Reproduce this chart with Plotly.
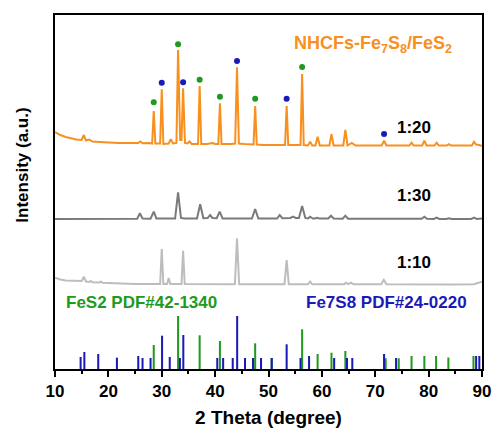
import plotly.graph_objects as go

# ---------------- data (2θ in degrees, intensity in a.u.) ----------------
s20_x = [10, 11, 12, 13, 14, 15.0, 15.4, 15.8, 16.4, 17, 18, 20, 22, 24, 25.6, 26.0, 26.4, 27.5,
         28.2, 28.5, 28.8, 29.7, 30.0, 30.3, 31.3, 31.7, 32.1, 32.75, 33.06, 33.45, 33.7, 34.0, 34.35,
         34.8, 35.2, 35.6, 36.8, 37.1, 37.4, 38.5, 39.5, 40.0, 40.6, 40.9, 41.2, 43.0, 43.75, 44.1,
         44.45, 45.5, 47.2, 47.5, 47.8, 49, 51, 53.1, 53.4, 53.7, 55, 56.0, 56.3, 56.6, 57.4, 57.8,
         58.2, 58.8, 59.2, 59.6, 61.4, 61.8, 62.2, 64.0, 64.4, 64.8, 65.6, 66.3, 70, 71.2, 71.65, 72.1,
         74, 76.4, 76.8, 77.2, 78.8, 79.2, 79.6, 81.1, 81.5, 81.9, 83.4, 83.8, 84.2, 86, 88.1, 88.5,
         88.9, 89.5, 90]
s20_y = [237, 234, 232, 230.5, 229.5, 229, 234, 228.5, 229.5, 227.5, 227, 226.5, 226, 226, 226, 227.5,
         225.8, 226, 225.5, 258, 225.5, 225.5, 279.7, 225, 225.5, 229.7, 225.5, 226, 319, 229, 229,
         280.7, 226, 225.5, 227.5, 225, 225, 283, 225, 225, 226, 225, 225, 265.7, 225, 225, 225.5,
         301.7, 225.5, 225, 224.5, 263, 224.5, 224, 224, 224, 263, 224, 224, 224, 295, 224, 223.5,
         227.3, 223.5, 223.5, 232.3, 223.5, 223.5, 234.7, 223.5, 223.5, 239, 223.5, 226, 223.5, 223.5,
         223.5, 228.3, 223.5, 223.5, 223.5, 226.3, 223.5, 223.5, 228.3, 223.5, 223.5, 226.3, 223.5,
         223.5, 224.8, 223.5, 223.5, 223.5, 227.3, 224.5, 224, 223]

s30_x = [10, 20, 24, 25.4, 25.9, 26.4, 27.9, 28.5, 29.0, 32.5, 33.06, 33.6, 34.2, 36.6, 37.2, 37.8,
         38.6, 39.05, 39.5, 40.3, 40.85, 41.4, 46.9, 47.5, 48.1, 51.6, 52.1, 52.6, 54.1, 54.6, 55.1,
         55.7, 56.3, 56.9, 57.4, 57.8, 58.3, 58.7, 59.1, 59.5, 61.2, 61.7, 62.2, 63.9, 64.4, 64.9,
         78.7, 79.2, 79.7, 81.0, 81.5, 82.0, 83.3, 83.8, 84.3, 88.0, 88.5, 89.0, 90]
s30_y = [150, 150, 150, 150.3, 155.7, 150.5, 150.3, 157.3, 150.5, 150.5, 176.7, 151, 150.5, 150.5,
         164.7, 150.8, 151, 154, 151, 150.8, 157.3, 150.5, 150.5, 160, 150.5, 150.5, 154, 150.8, 151,
         152.3, 151, 151, 163, 151, 150.5, 152.3, 150.5, 150.5, 151.3, 150.5, 150.5, 153.3, 150.5,
         150.3, 153.3, 150.3, 150.2, 152.3, 150.2, 150, 151.3, 150, 150, 150.7, 150, 150, 151.3, 150,
         150.5]

s10_x = [10, 11, 12, 14, 15.0, 15.4, 15.8, 16.4, 16.7, 17.0, 18.3, 18.6, 18.9, 20, 22, 25, 29.7,
         30.0, 30.3, 31.0, 31.3, 31.6, 33.7, 34.0, 34.3, 38, 43.7, 44.1, 44.5, 50, 53.0, 53.4, 53.8,
         57.4, 57.8, 58.2, 62, 64.2, 64.5, 64.9, 65.5, 65.9, 71.1, 71.6, 72.1, 76, 80, 85, 88.5, 89.3, 90]
s10_y = [91.3, 89.5, 88.5, 88, 88, 92.3, 87.5, 87, 88, 86.7, 86.5, 87.3, 86.3, 86, 85.5, 85, 85, 120,
         85, 85, 91, 85, 85, 118.3, 85, 84.7, 84.7, 130.7, 84.7, 84.7, 84.7, 109, 84.7, 84.7, 87.3,
         84.7, 84.7, 84.7, 86.3, 84.9, 86.3, 84.7, 84.7, 89, 84.7, 84.5, 84.5, 84.5, 84.7, 86, 87.3]

# phase markers on the 1:20 pattern
fes2_mark_x = [28.5, 33.06, 37.1, 40.9, 47.5, 56.3]
fes2_mark_y = [266.7, 324.7, 289.3, 272.3, 270.3, 302]
fe7s8_mark_x = [30.0, 34.0, 44.1, 53.4, 71.65]
fe7s8_mark_y = [286.3, 286.7, 308, 270.3, 235]

# reference patterns
fes2_pos = [28.5, 33.06, 37.1, 40.9, 47.5, 50.6, 56.3, 59.2, 61.8, 64.4, 71.95, 74.4, 76.8, 79.2,
            81.4, 83.7, 88.4]
fes2_h = [24, 53, 33.7, 28, 25.7, 11, 39.7, 15, 16.3, 18, 10.7, 10.7, 13, 13, 13, 11.5, 13]
fe7s8_pos = [14.8, 15.5, 18.1, 21.6, 25.6, 26.4, 27.9, 30.06, 31.5, 33.4, 34.04, 40.4, 41.5, 43.3,
             44.13, 45.6, 47.1, 48.6, 50.6, 53.4, 56.0, 57.6, 62.3, 64.7, 65.7, 71.65, 73.9, 88.9, 89.5]
fe7s8_h = [12, 17, 15, 11.3, 13, 11, 11, 33.3, 12, 11, 34, 11, 11, 11, 53, 11, 11, 11, 11, 24.7, 11,
           13, 11, 11, 11, 15, 11, 13, 13]

x_ticks = [10, 20, 30, 40, 50, 60, 70, 80, 90]

ORANGE = "#f7901e"
DGRAY = "#7a7a7a"
LGRAY = "#bdbdbd"
GREEN = "#1f9a1f"
BLUE = "#1a1ab8"
FONT = "Arial, Liberation Sans, sans-serif"

fig = go.Figure()
fig.add_trace(go.Bar(x=fes2_pos, y=fes2_h, width=0.38, marker=dict(color=GREEN, line_width=0)))
fig.add_trace(go.Bar(x=fe7s8_pos, y=fe7s8_h, width=0.38, marker=dict(color=BLUE, line_width=0)))
fig.add_trace(go.Scatter(x=s10_x, y=s10_y, mode="lines", line=dict(color=LGRAY, width=2)))
fig.add_trace(go.Scatter(x=s30_x, y=s30_y, mode="lines", line=dict(color=DGRAY, width=2)))
fig.add_trace(go.Scatter(x=s20_x, y=s20_y, mode="lines", line=dict(color=ORANGE, width=2)))
fig.add_trace(go.Scatter(x=fes2_mark_x, y=fes2_mark_y, mode="markers",
                         marker=dict(color=GREEN, size=6)))
fig.add_trace(go.Scatter(x=fe7s8_mark_x, y=fe7s8_mark_y, mode="markers",
                         marker=dict(color=BLUE, size=6)))

def label(x, y, text, color, size=16):
    fig.add_annotation(x=x, y=y, text=text, showarrow=False, xref="x", yref="y",
                       font=dict(family=FONT, size=size, color=color, weight="bold"))

label(69.6, 325, "NHCFs-Fe<sub>7</sub>S<sub>8</sub>/FeS<sub>2</sub>", ORANGE, 18)
label(77.2, 242, "1:20", "black", 17)
label(77.2, 174, "1:30", "black", 17)
label(77.2, 107, "1:10", "black", 17)
label(26.2, 67, "FeS2 PDF#42-1340", GREEN, 17)
label(72.1, 67, "Fe7S8 PDF#24-0220", BLUE, 17)

fig.add_annotation(x=-0.076, y=0.576, xref="paper", yref="paper", text="Intensity (a.u.)",
                   textangle=-90, showarrow=False, xanchor="center", yanchor="middle",
                   font=dict(family=FONT, size=17, color="black", weight="bold"))

fig.update_layout(
    width=502, height=437,
    margin=dict(l=55, r=11, t=15, b=68),
    paper_bgcolor="white", plot_bgcolor="white",
    showlegend=False, barmode="overlay",
    xaxis=dict(range=[10, 90], tickvals=x_ticks, ticks="outside", ticklen=6, tickwidth=2,
               tickcolor="black", showline=True, linewidth=2, linecolor="black", mirror=True,
               showgrid=False, zeroline=False,
               minor=dict(dtick=5, tick0=5, ticks="outside", ticklen=3, tickwidth=2, tickcolor="black"),
               tickfont=dict(family=FONT, size=17, color="black", weight="bold"),
               title=dict(text="2 Theta (degree)", standoff=10,
                          font=dict(family=FONT, size=19, color="black", weight="bold"))),
    yaxis=dict(range=[0, 354], showticklabels=False, ticks="", showline=True, linewidth=2,
               linecolor="black", mirror=True, showgrid=False, zeroline=False),
)

fig.write_html("out.html")
